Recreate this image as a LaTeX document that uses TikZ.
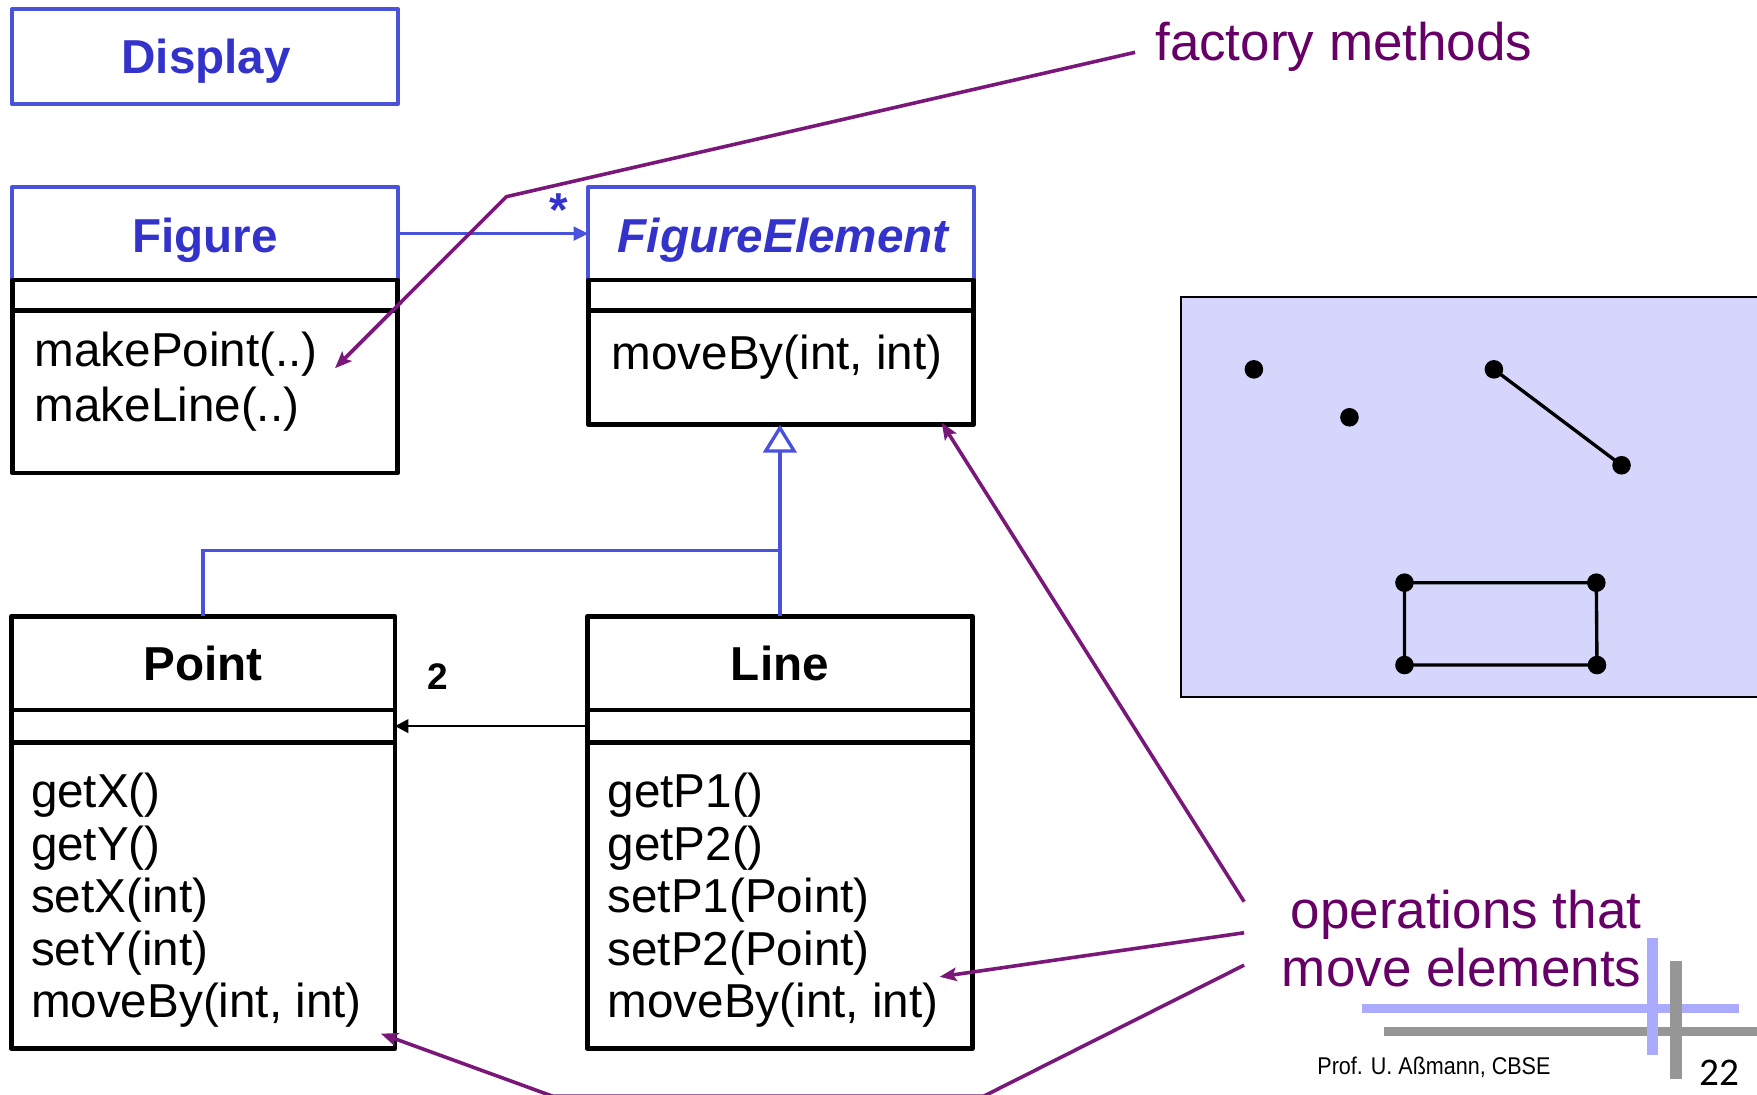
\documentclass[tikz,border=0pt]{standalone}
\usepackage{fontspec}
\setmainfont{Liberation Sans}
\newfontfamily\narrowfont[FakeStretch=0.89]{Liberation Sans}
\newfontfamily\pagefont{Carlito}
\usetikzlibrary{arrows.meta}
\definecolor{umlblue}{RGB}{72,82,218}
\definecolor{nameblue}{RGB}{51,51,204}
\definecolor{purpline}{RGB}{122,24,122}
\definecolor{purptext}{RGB}{102,0,102}
\definecolor{panelfill}{RGB}{214,214,252}
\definecolor{barlav}{RGB}{170,170,255}
\definecolor{bargray}{RGB}{150,150,150}
\begin{document}
\begin{tikzpicture}[x=1pt,y=-1pt,
  bluecomp/.style={draw=umlblue, line width=3.6pt, line join=round, inner sep=0pt, outer sep=0pt, anchor=north west},
  blackcomp/.style={draw=black, line width=4.2pt, line join=round, inner sep=0pt, outer sep=0pt, anchor=north west},
  cname/.style={font=\fontsize{42.5}{46.8}\selectfont\bfseries, anchor=base, inner sep=0pt},
  optext/.style={font=\fontsize{42.5}{46.8}\selectfont, anchor=base west, inner sep=0pt},
  notetext/.style={font=\fontsize{47.3}{51}\selectfont, text=purptext, inner sep=0pt},
  umlline/.style={draw=umlblue, line width=3pt},
  purparrow/.style={draw=purpline, line width=3.2pt, line join=round, -{Stealth[length=15pt,width=12pt,inset=3pt]}},
  dot/.style={circle, fill=black, inner sep=0pt, minimum size=16.6pt}
]
\useasboundingbox (0,0) rectangle (1568,977);

% ---------- Display ----------
\node[bluecomp, minimum width=344pt, minimum height=85pt] (display) at (11,8) {};
\node[cname, text=nameblue] (displayT) at (184,66) {Display};

% ---------- Figure ----------
\node[bluecomp, minimum width=344pt, minimum height=83pt] (fig) at (11,167) {};
\node[blackcomp, minimum width=344pt, minimum height=27pt] (figA) at (11,250) {};
\node[blackcomp, minimum width=344pt, minimum height=145pt] (figO) at (11,277) {};
\node[cname, text=nameblue] (figT) at (183,225) {Figure};
\node[optext] (figop1) at (30.7,327.2) {makePoint(..)};
\node[optext] (figop2) at (30.7,376.3) {makeLine(..)};

% ---------- FigureElement ----------
\node[bluecomp, minimum width=344pt, minimum height=83pt] (fe) at (525,167) {};
\node[blackcomp, minimum width=344pt, minimum height=27pt] (feA) at (525,250) {};
\node[blackcomp, minimum width=344pt, minimum height=102pt] (feO) at (525,277) {};
\node[cname, text=nameblue, font=\fontsize{42.5}{46.8}\selectfont\bfseries\itshape] (feT) at (699,225) {FigureElement};
\node[optext] (feop1) at (545.6,330) {moveBy(int, int)};

% ---------- Point ----------
\node[blackcomp, minimum width=342.5pt, minimum height=83.5pt] (pt) at (10,550) {};
\node[blackcomp, minimum width=342.5pt, minimum height=29pt] (ptA) at (10,633.5) {};
\node[blackcomp, minimum width=342.5pt, minimum height=273pt] (ptO) at (10,662.5) {};
\node[cname] (ptT) at (181,607) {Point};
\foreach \t [count=\i] in {getX(), getY(), setX(int), setY(int), {moveBy(int, int)}}
  \node[optext] (ptop\i) at (27.5, 674+46.8*\i) {\t};

% ---------- Line ----------
\node[blackcomp, minimum width=344pt, minimum height=83.5pt] (ln) at (524,550) {};
\node[blackcomp, minimum width=344pt, minimum height=29pt] (lnA) at (524,633.5) {};
\node[blackcomp, minimum width=344pt, minimum height=273pt] (lnO) at (524,662.5) {};
\node[cname] (lnT) at (696,607) {Line};
\foreach \t [count=\i] in {getP1(), getP2(), setP1(Point), setP2(Point), {moveBy(int, int)}}
  \node[optext] (lnop\i) at (542, 674+46.8*\i) {\t};

% ---------- associations ----------
\draw[umlline, -{Triangle[length=13pt,width=12pt]}] (fig.east) -- (fe.west);
\node[font=\fontsize{42.5}{46.8}\selectfont\bfseries, text=nameblue, anchor=base, inner sep=0pt] (star) at (499,202) {*};
\draw[black, line width=2.4pt, -{Triangle[length=12pt,width=12pt]}] (lnA.west) -- (ptA.east);
\node[font=\fontsize{33}{36}\selectfont\bfseries, anchor=base, inner sep=0pt] (two) at (391,615.3) {2};

% ---------- inheritance ----------
\coordinate (junc) at (696,491.5);
\draw[umlline] (pt.north) |- (junc);
\draw[umlline, -{Triangle[open,length=25pt,width=30pt]}] (ln.north) -- (ln.north |- feO.south);

% ---------- right panel ----------
\draw[fill=panelfill, line width=1.8pt] (1054,264.7) rectangle (1570,621.7);
\node[dot] (d1) at (1119,329.6) {};
\node[dot] (d2) at (1204.3,372.4) {};
\node[dot] (d3) at (1333.2,329.6) {};
\node[dot] (d4) at (1447.1,415.2) {};
\node[dot] (r1) at (1253.4,520) {};
\node[dot] (r2) at (1424.6,520) {};
\node[dot] (r3) at (1425.2,593.5) {};
\node[dot] (r4) at (1253.4,593.5) {};
\draw[line width=3pt] (d3.center) -- (d4.center);
\draw[line width=3pt, line join=miter] (r1.center) -- (r2.center) -- (r3.center) -- (r4.center) -- cycle;

% ---------- notes ----------
\node[notetext, anchor=base west] (fm) at (1030.8,54.4) {factory methods};
\coordinate (fmEnd) at (1013,46.7);
\coordinate (fmBend) at (452,175.5);
\coordinate (fmTip) at (299,328.6);
\draw[purparrow] (fmEnd) -- (fmBend) -- (fmTip);

\node[notetext, anchor=base east] (ops1) at (1465,828.5) {operations that};
\node[notetext, anchor=base east] (ops2) at (1465,880.6) {move elements};
\coordinate (oA) at (1110.3,804.7);
\coordinate (oB) at (1110.3,832.4);
\coordinate (oC) at (1110.3,861.3);
\coordinate (tipFE) at (840.4,377.2);
\coordinate (tipLn) at (838.6,871.7);
\coordinate (tipPt) at (340,922.5);
\coordinate (bR) at (878,978.2);
\coordinate (bL) at (493,978.2);
\draw[purparrow] (oA) -- (tipFE);
\draw[purparrow] (oB) -- (tipLn);
\draw[purparrow] (oC) -- (bR) -- (bL) -- (tipPt);

% ---------- footer decoration ----------
\fill[barlav] (1215.6,895.8) rectangle (1552,904.2);
\fill[bargray] (1235.4,916.8) rectangle (1568,924.8);
\fill[barlav] (1469.6,837.5) rectangle (1480,941.6);
\fill[bargray] (1490.4,857.4) rectangle (1500.8,963.3);
\node[font=\narrowfont\fontsize{21.6}{24}\selectfont, anchor=base west, inner sep=0pt] (footer) at (1175.5,958.6) {Prof. U. Aßmann, CBSE};
\node[font=\pagefont\fontsize{35}{38}\selectfont, anchor=base west, inner sep=0pt] (pageno) at (1516.6,968.4) {22};
\end{tikzpicture}
\end{document}
